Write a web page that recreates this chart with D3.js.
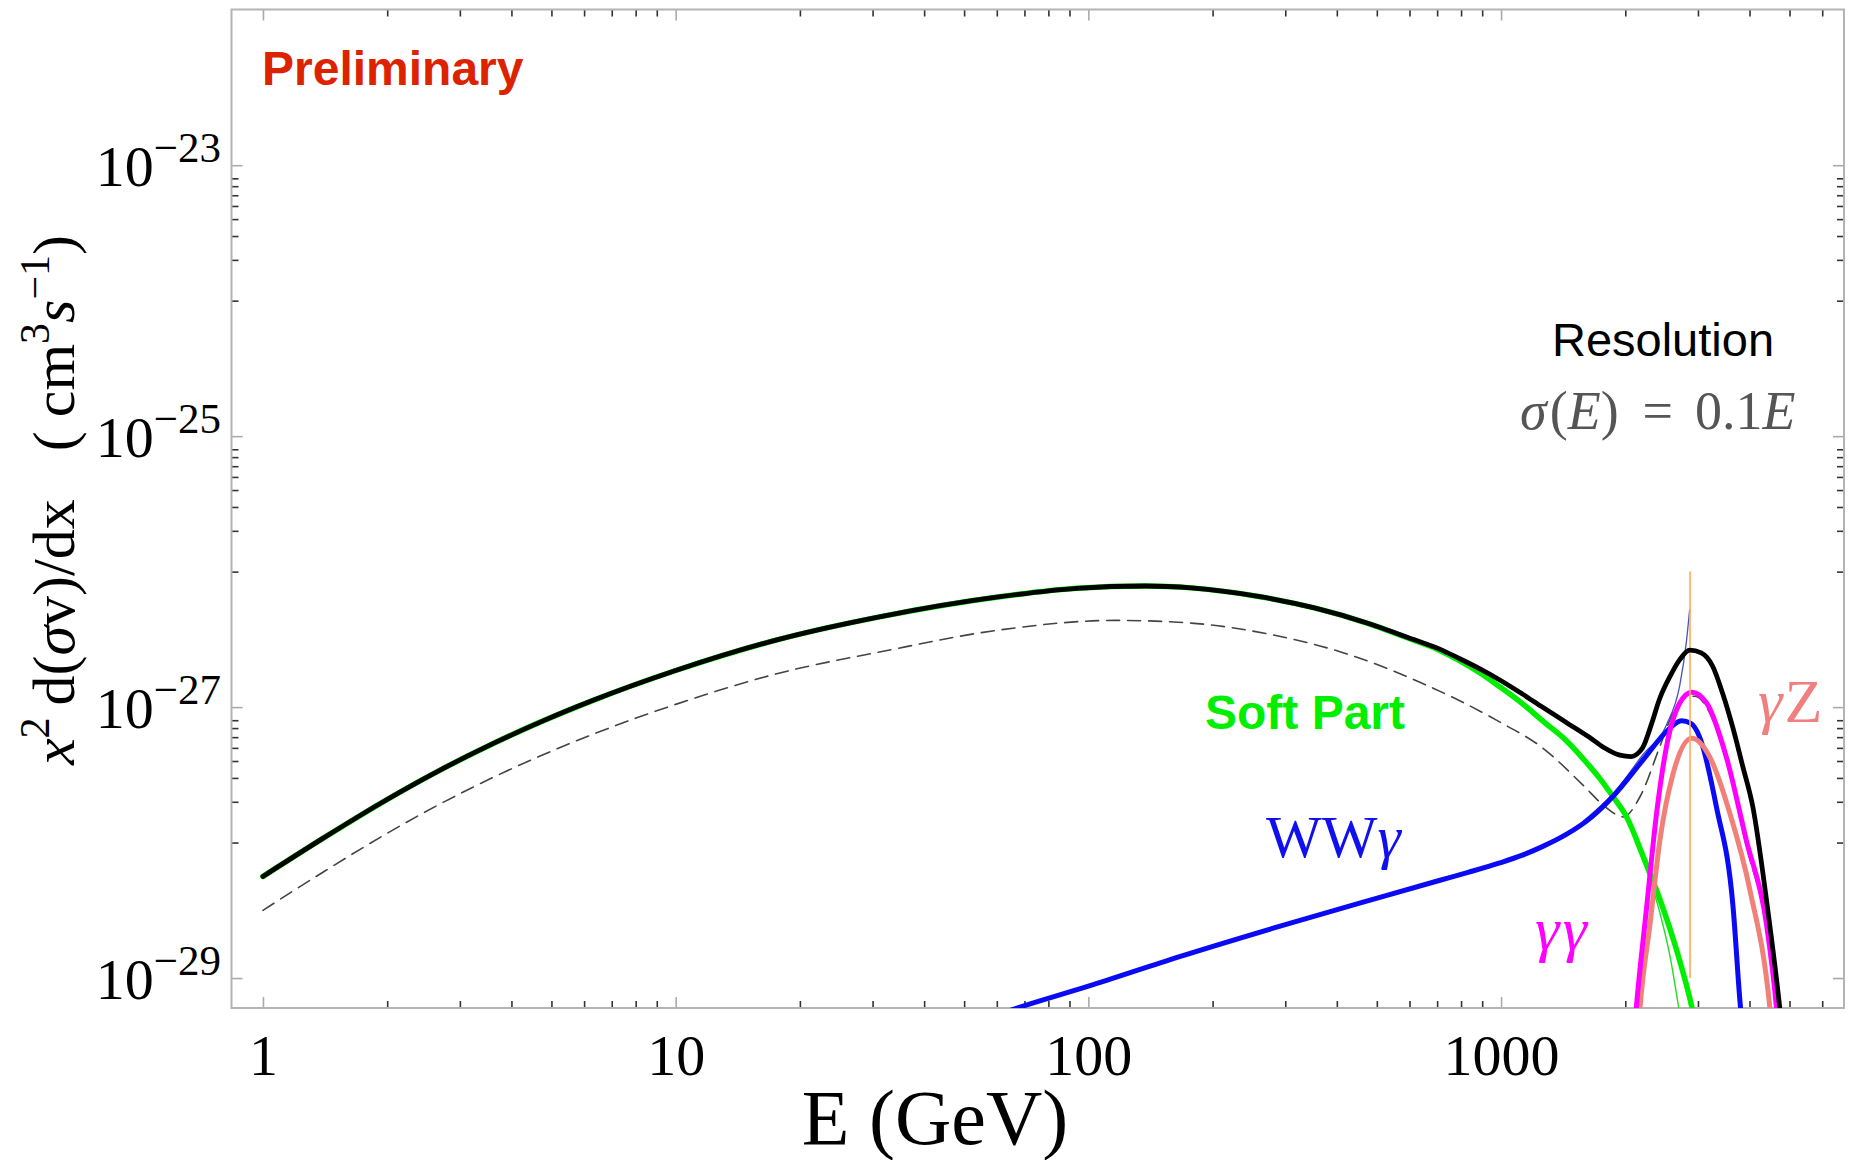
<!DOCTYPE html>
<html>
<head>
<meta charset="utf-8">
<script src="https://cdn.jsdelivr.net/npm/d3@7"></script>
<style>
  html, body { margin: 0; padding: 0; background: #fff; }
  svg { display: block; }
</style>
</head>
<body>
<svg id="chart" width="1852" height="1160"></svg>
<script>
// ---------------- DATA (log10 E [GeV], log10 x^2 d(sigma v)/dx [cm^3 s^-1]) ----------------
const totalLogE = [0, 0.15, 0.285, 0.42, 0.557, 0.68, 0.8, 1.0, 1.25, 1.5, 1.786, 1.971, 2.138, 2.25, 2.416, 2.55, 2.675, 2.787, 2.85, 2.898, 2.95, 2.997, 3.05, 3.1, 3.159, 3.215, 3.25, 3.288, 3.315, 3.343, 3.365, 3.384, 3.41, 3.433, 3.457, 3.485, 3.513, 3.537, 3.561, 3.585, 3.61, 3.643, 3.675, 3.685];
const totalLogY = [-28.25, -27.96, -27.71, -27.48, -27.27, -27.10, -26.95, -26.73, -26.50, -26.33, -26.185, -26.123, -26.106, -26.12, -26.185, -26.27, -26.379, -26.50, -26.57, -26.64, -26.72, -26.80, -26.90, -27.0, -27.115, -27.225, -27.30, -27.355, -27.365, -27.30, -27.12, -26.94, -26.77, -26.65, -26.58, -26.60, -26.70, -26.90, -27.145, -27.43, -27.735, -28.42, -29.21, -29.5];

const softLogE = [0, 0.15, 0.285, 0.42, 0.557, 0.68, 0.8, 1.0, 1.25, 1.5, 1.786, 1.971, 2.138, 2.25, 2.416, 2.55, 2.675, 2.787, 2.85, 2.898, 2.95, 2.997, 3.05, 3.1, 3.159, 3.21, 3.24, 3.271, 3.304, 3.344, 3.385, 3.425, 3.462, 3.475];
const softLogY = [-28.25, -27.96, -27.71, -27.48, -27.27, -27.10, -26.95, -26.73, -26.50, -26.33, -26.185, -26.123, -26.106, -26.12, -26.185, -26.27, -26.38, -26.505, -26.58, -26.655, -26.75, -26.85, -26.97, -27.10, -27.25, -27.42, -27.53, -27.66, -27.81, -28.10, -28.42, -28.79, -29.21, -29.4];

const softThinLogE = [3.2, 3.271, 3.304, 3.344, 3.385, 3.41, 3.43, 3.44];
const softThinLogY = [-27.39, -27.66, -27.82, -28.13, -28.52, -28.85, -29.21, -29.4];

const wwLogE = [1.78, 1.829, 2.0, 2.223, 2.45, 2.70, 2.85, 2.92, 2.997, 3.05, 3.1, 3.158, 3.22, 3.271, 3.344, 3.401, 3.437, 3.46, 3.481, 3.522, 3.562, 3.58, 3.59];
const wwLogY = [-29.27, -29.22, -29.06, -28.84, -28.63, -28.41, -28.28, -28.22, -28.15, -28.095, -28.03, -27.94, -27.81, -27.66, -27.39, -27.18, -27.10, -27.12, -27.22, -27.74, -28.47, -29.21, -29.5];

const wwThinLogE = [3.2, 3.271, 3.344, 3.401, 3.433, 3.449, 3.457];
const wwThinLogY = [-27.84, -27.64, -27.35, -27.13, -26.84, -26.52, -26.28];

const ggLogE = [3.32, 3.328, 3.353, 3.377, 3.401, 3.433, 3.462, 3.498, 3.546, 3.594, 3.643, 3.667, 3.675];
const ggLogY = [-29.5, -29.21, -28.47, -27.78, -27.29, -26.97, -26.89, -26.97, -27.37, -27.98, -28.60, -29.21, -29.5];

const gzLogE = [3.33, 3.337, 3.361, 3.385, 3.417, 3.462, 3.506, 3.554, 3.603, 3.651, 3.66];
const gzLogY = [-29.5, -29.21, -28.60, -27.98, -27.49, -27.23, -27.37, -27.78, -28.35, -29.21, -29.5];

const dashLogE = [0, 0.15, 0.285, 0.42, 0.557, 0.68, 0.8, 1.0, 1.25, 1.5, 1.786, 2.064, 2.249, 2.435, 2.619, 2.806, 2.991, 3.1, 3.2, 3.25, 3.296, 3.337, 3.385, 3.42, 3.45, 3.47, 3.498, 3.546, 3.594, 3.643, 3.667, 3.675];
const dashLogY = [-28.50, -28.21, -27.96, -27.73, -27.52, -27.35, -27.20, -26.98, -26.75, -26.59, -26.43, -26.36, -26.38, -26.46, -26.60, -26.82, -27.10, -27.30, -27.58, -27.73, -27.81, -27.66, -27.29, -27.02, -26.92, -26.92, -27.0, -27.40, -28.02, -28.64, -29.21, -29.5];

const lineEnergy = 2870;            // GeV, monochromatic line
const lineRange = [1e-29, 1e-26];

const xDomain = [0.839, 6776];
const yDomain = [1.41e-22, 6.01e-30];
const xMajorTicks = [1, 10, 100, 1000];
const xMinorTicks = [2,3,4,5,6,7,8,9, 20,30,40,50,60,70,80,90, 200,300,400,500,600,700,800,900, 2000,3000,4000,5000,6000];
const yMajorTicks = [1e-23, 1e-25, 1e-27, 1e-29];
const yMajorExp = ["−23", "−25", "−27", "−29"];
const yMinorTicks = [8e-24,7e-24,6e-24,5e-24,4e-24,3e-24,2e-24,1e-24,
                     8e-26,7e-26,6e-26,5e-26,4e-26,3e-26,2e-26,1e-26,
                     8e-28,7e-28,6e-28,5e-28,4e-28,3e-28,2e-28,1e-28];

// ---------------- LAYOUT ----------------
const plot = {left: 231.5, right: 1844, top: 9.5, bottom: 1008};
const serif = "'Liberation Serif','Times New Roman',serif";
const sans = "'Liberation Sans',Arial,sans-serif";

const svg = d3.select("#chart");
const x = d3.scaleLog().domain(xDomain).range([plot.left, plot.right]);
const y = d3.scaleLog().domain(yDomain).range([plot.top, plot.bottom]);

svg.append("defs").append("clipPath").attr("id", "clip")
  .append("rect").attr("x", plot.left).attr("y", plot.top)
  .attr("width", plot.right - plot.left).attr("height", plot.bottom - plot.top);

// ---------------- AXES / TICKS ----------------
function styleAxis(g, color, width) {
  g.select(".domain").remove();
  g.selectAll(".tick line").attr("stroke", color).attr("stroke-width", width);
  g.selectAll(".tick text").remove();
}
svg.append("g").attr("transform", `translate(0,${plot.bottom})`)
  .call(d3.axisBottom(x).tickValues(xMinorTicks).tickSize(-7)).call(g => styleAxis(g, "#333", 1.6));
const xMajG = svg.append("g").attr("transform", `translate(0,${plot.bottom})`)
  .call(d3.axisBottom(x).tickValues(xMajorTicks).tickSize(-11).tickFormat(d3.format("d")));
xMajG.select(".domain").remove();
xMajG.selectAll(".tick line").attr("stroke", "#aaa").attr("stroke-width", 1.6);
xMajG.selectAll(".tick text").attr("y", 67).attr("dy", null)
  .attr("font-family", serif).attr("font-size", 58).attr("fill", "#000");
svg.append("g").attr("transform", `translate(0,${plot.top})`)
  .call(d3.axisTop(x).tickValues(xMinorTicks).tickSize(-7)).call(g => styleAxis(g, "#333", 1.6));
svg.append("g").attr("transform", `translate(0,${plot.top})`)
  .call(d3.axisTop(x).tickValues(xMajorTicks).tickSize(-11)).call(g => styleAxis(g, "#aaa", 1.6));
svg.append("g").attr("transform", `translate(${plot.left},0)`)
  .call(d3.axisLeft(y).tickValues(yMinorTicks).tickSize(-7)).call(g => styleAxis(g, "#333", 1.6));
svg.append("g").attr("transform", `translate(${plot.left},0)`)
  .call(d3.axisLeft(y).tickValues(yMajorTicks).tickSize(-11)).call(g => styleAxis(g, "#aaa", 1.6));
svg.append("g").attr("transform", `translate(${plot.right},0)`)
  .call(d3.axisRight(y).tickValues(yMinorTicks).tickSize(-7)).call(g => styleAxis(g, "#333", 1.6));
svg.append("g").attr("transform", `translate(${plot.right},0)`)
  .call(d3.axisRight(y).tickValues(yMajorTicks).tickSize(-11)).call(g => styleAxis(g, "#aaa", 1.6));

yMajorTicks.forEach((v, i) => {
  const t = svg.append("text").attr("x", 221).attr("y", y(v) + 21)
    .attr("text-anchor", "end").attr("font-family", serif).attr("fill", "#000");
  t.append("tspan").attr("font-size", 58).text("10");
  t.append("tspan").attr("font-size", 43).attr("dy", -24).text(yMajorExp[i]);
});

svg.append("rect").attr("x", plot.left).attr("y", plot.top)
  .attr("width", plot.right - plot.left).attr("height", plot.bottom - plot.top)
  .attr("fill", "none").attr("stroke", "#b4b4b4").attr("stroke-width", 2);

// ---------------- CURVES ----------------
const line = d3.line().x(d => x(Math.pow(10, d[0]))).y(d => y(Math.pow(10, d[1]))).curve(d3.curveMonotoneX);
const zip = (a, b) => a.map((v, i) => [v, b[i]]);
const plotG = svg.append("g").attr("clip-path", "url(#clip)");

function drawCurve(le, ly, color, width, dash) {
  plotG.append("path").datum(zip(le, ly)).attr("d", line)
    .attr("fill", "none").attr("stroke", color).attr("stroke-width", width)
    .attr("stroke-linejoin", "round").attr("stroke-linecap", "round")
    .attr("stroke-dasharray", dash || null);
}
drawCurve(dashLogE, dashLogY, "#444", 1.6, "13,8");
drawCurve(softThinLogE, softThinLogY, "#22dd22", 1.4);
drawCurve(softLogE, softLogY, "#00ee00", 5.5);
drawCurve(wwThinLogE, wwThinLogY, "#4455bb", 1.3);
drawCurve(wwLogE, wwLogY, "#0a0af5", 5);
drawCurve(gzLogE, gzLogY, "#f08078", 5);
drawCurve(ggLogE, ggLogY, "#ff00ff", 5);
plotG.append("line")
  .attr("x1", x(lineEnergy)).attr("x2", x(lineEnergy))
  .attr("y1", y(lineRange[0])).attr("y2", y(lineRange[1]))
  .attr("stroke", "#ffaa55").attr("stroke-width", 1.6);
drawCurve(totalLogE, totalLogY, "#000", 4.8);

// ---------------- LABELS ----------------
svg.append("text").attr("x", 262).attr("y", 85).attr("font-family", sans).attr("font-weight", "bold")
  .attr("font-size", 48).attr("fill", "#dd2200").text("Preliminary");

svg.append("text").attr("x", 1663).attr("y", 356).attr("text-anchor", "middle").attr("font-family", sans)
  .attr("font-size", 47).attr("fill", "#000").text("Resolution");

function rich(sel, parts, size) {
  parts.forEach(p => {
    const ts = sel.append("tspan").text(p.t);
    if (p.it) ts.attr("font-style", "italic");
    if (p.dx) ts.attr("dx", p.dx);
    if (p.sup) ts.attr("font-size", size * 0.7).attr("dy", -size * 0.42);
    if (p.down) ts.attr("dy", size * 0.42);
  });
}
const sig = svg.append("text").attr("x", 1520).attr("y", 429).attr("font-family", serif)
  .attr("font-size", 54).attr("fill", "#555");
rich(sig, [{t: "σ", it: true}, {t: "(", dx: 3}, {t: "E", it: true}, {t: ")"}, {t: "=", dx: 24}, {t: "0.1", dx: 22}, {t: "E", it: true}], 54);

svg.append("text").attr("x", 1205).attr("y", 729).attr("font-family", sans).attr("font-weight", "bold")
  .attr("font-size", 48).attr("fill", "#00ee00").text("Soft Part");

const ww = svg.append("text").attr("x", 1266).attr("y", 857).attr("font-family", serif)
  .attr("font-size", 59).attr("fill", "#1010ee");
rich(ww, [{t: "WW"}, {t: "γ", it: true}], 59);

svg.append("text").attr("x", 1535).attr("y", 950).attr("font-family", serif).attr("font-style", "italic")
  .attr("font-size", 62).attr("letter-spacing", 3).attr("fill", "#ff00ff").text("γγ");

const gz = svg.append("text").attr("x", 1758).attr("y", 722).attr("font-family", serif)
  .attr("font-size", 62).attr("letter-spacing", 2).attr("fill", "#f08080");
rich(gz, [{t: "γ", it: true}, {t: "Z"}], 62);

svg.append("text").attr("x", 935).attr("y", 1144).attr("text-anchor", "middle").attr("font-family", serif)
  .attr("font-size", 78).attr("fill", "#000").text("E (GeV)");

const yl = svg.append("text").attr("transform", "translate(74,500) rotate(-90)").attr("text-anchor", "middle")
  .attr("font-family", serif).attr("font-size", 60).attr("fill", "#000");
rich(yl, [
  {t: "x", it: true}, {t: "2", sup: true}, {t: "d(", dx: 12, down: true}, {t: "σ", it: true}, {t: "v)/dx"},
  {t: "(", dx: 48}, {t: "cm", dx: 14}, {t: "3", sup: true}, {t: "s", it: true, down: true}, {t: "−1", sup: true},
  {t: ")", down: true}
], 60);
</script>
</body>
</html>
